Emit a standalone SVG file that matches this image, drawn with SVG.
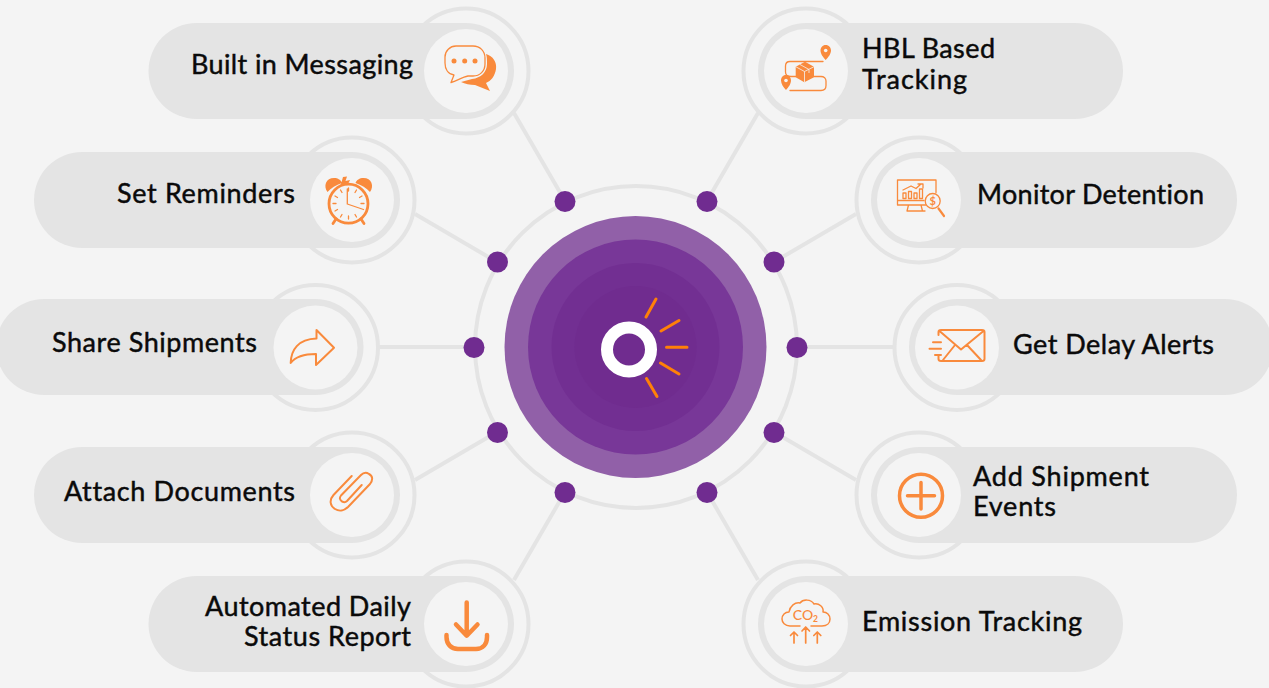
<svg xmlns="http://www.w3.org/2000/svg" width="1269" height="688" viewBox="0 0 1269 688">
<style>
.ring{fill:none;stroke:#e4e4e4;stroke-width:4}
.pill{fill:#e4e4e4}
.disc{fill:#f4f4f4}
.lbl{font-family:"Lato","Liberation Sans",sans-serif;font-size:27px;font-weight:400;fill:#0a0a0a;stroke:#0a0a0a;stroke-width:.45px;font-variant-ligatures:none}
.conn{stroke:#e4e4e4;stroke-width:4;fill:none}
.dot{fill:#702c90}
.o{fill:none;stroke:#f98a3c;stroke-width:2;stroke-linecap:round;stroke-linejoin:round}
.ot{fill:none;stroke:#f98a3c;stroke-width:1.3;stroke-linecap:round;stroke-linejoin:round}
.ok{fill:none;stroke:#f98a3c;stroke-width:4;stroke-linecap:round;stroke-linejoin:round}
.f{fill:#f98a3c}
.ray{stroke:#ff8008;stroke-width:3;stroke-linecap:round}
.it{font-family:"Lato","Liberation Sans",sans-serif;fill:#f98a3c}
</style>
<rect width="1269" height="688" fill="#f4f4f4"/>
<g id="connectors">
<circle class="conn" cx="636" cy="347" r="161"/>
<path class="conn" d="M565 201L514 113M497 262L415 214M474 347H378M497 432L415 480M565 492L514 580M707 201L758 113M774 262L856 214M797 347H893M774 432L856 480M707 492L758 580"/>
<g class="dot">
<circle cx="565" cy="201.500" r="10.500"/><circle cx="707" cy="201.500" r="10.500"/><circle cx="497.500" cy="262" r="10.500"/><circle cx="774" cy="262" r="10.500"/><circle cx="474" cy="347.500" r="10.500"/><circle cx="797" cy="347.500" r="10.500"/><circle cx="497.500" cy="432.500" r="10.500"/><circle cx="774" cy="432.500" r="10.500"/><circle cx="565" cy="492.500" r="10.500"/><circle cx="707" cy="492.500" r="10.500"/>
</g>
</g>
<g id="hub">
<circle cx="635.500" cy="347" r="131" fill="#9160a8"/>
<circle cx="635.500" cy="347" r="107.500" fill="#783798"/>
<circle cx="635.500" cy="347" r="84" fill="#722f92"/>
<circle cx="635.500" cy="347" r="61" fill="#702c8f"/>
<circle cx="629" cy="349.500" r="22" fill="none" stroke="#fff" stroke-width="12"/>
<path class="ray" d="M646 317L656 299M661 331L679 320.500M666.500 347.300H687M660.500 363L679 374M646.500 378.500L657 396.500"/>
</g>
<g id="node-messaging">
<circle class="ring" cx="466" cy="71" r="62.500"/>
<rect class="pill" x="148.500" y="23" width="365.500" height="96" rx="48"/>
<circle class="disc" cx="466" cy="71" r="42"/>
<text class="lbl" x="413" y="73.500" text-anchor="end" textLength="222">Built in Messaging</text>
<path class="f" d="M486 54C493 56 497 62 496 69C495 76 491 81 486 83L490 91L475 85C470 85 465 84 461 82L472 79C481 78 487 72 487 64C487 60 487 57 486 54Z"/>
<path class="o" style="stroke-width:1.300" d="M456 46H473C480 46 485 51 485 58V64C485 71 480 76 473 76H468C462 77 457 81 451 82.500L454 75C448 74 445 69 445 63V57C445 51 450 46 456 46Z"/>
<g class="f"><circle cx="454" cy="61" r="2.500"/><circle cx="464.700" cy="61" r="2.500"/><circle cx="475" cy="61" r="2.500"/></g>
</g>
<g id="node-reminders">
<circle class="ring" cx="352" cy="200" r="62.500"/>
<rect class="pill" x="34" y="152" width="366" height="96" rx="48"/>
<circle class="disc" cx="352" cy="200" r="42"/>
<text class="lbl" x="295" y="203" text-anchor="end" textLength="178">Set Reminders</text>
<circle cx="348.500" cy="203.700" r="19.500" fill="none" stroke="#f98a3c" stroke-width="2.800"/>
<path class="f" d="M327.500 192C323 186 326 178 334 178C338 178 341 180 342 183C336 185 331 188 327.500 192ZM370 192C374.500 186 371.500 178 363.500 178C359.500 178 356.500 180 355.500 183C361.500 185 366.500 188 370 192ZM343 177L347 176.500L345.500 181L350 180L348 184L341 184Z"/>
<path class="ok" style="stroke-width:2.800" d="M336 219L333 223.500M361 219L364 223.500"/>
<path class="ot" d="M347.300 189V204L363.500 209.500M348.500 188V191M348.500 216V219M333 203.500H336M361 203.500H364M340.500 190L342 192.500M356.500 190L355 192.500M335 196L337.500 197.500M362 196L359.500 197.500M335 211L337.500 209.500M340.500 217L342 214.500M356.500 217L355 214.500"/>
</g>
<g id="node-share">
<circle class="ring" cx="315.500" cy="347.500" r="62.500"/>
<rect class="pill" x="-4" y="299" width="367.500" height="96" rx="48"/>
<circle class="disc" cx="315.500" cy="347.500" r="42"/>
<text class="lbl" x="52" y="352" textLength="205">Share Shipments</text>
<path class="o" d="M316.500 330L334 347.700L316 365V354C305 354 296 356 290.700 363C291 350 298 339 316.500 338.500Z"/>
</g>
<g id="node-attach">
<circle class="ring" cx="352" cy="495" r="62.500"/>
<rect class="pill" x="34" y="447" width="366" height="96" rx="48"/>
<circle class="disc" cx="352" cy="495" r="42"/>
<text class="lbl" x="64" y="501" textLength="231">Attach Documents</text>
<path class="o" d="M351.700 476L333.500 495C329 500 330 506 335 509C340 512 345 510 348 507L370 484C373 480 373 476 369 474C366 472 363 473 361 475L341 495.500C339 498 340 500 342 501.500C344 502.500 346 502 347 501L361.700 485"/>
</g>
<g id="node-report">
<circle class="ring" cx="466" cy="624" r="62.500"/>
<rect class="pill" x="148.500" y="576" width="365.500" height="96" rx="48"/>
<circle class="disc" cx="466" cy="624" r="42"/>
<text class="lbl" x="411" y="615.500" text-anchor="end" textLength="206">Automated Daily</text>
<text class="lbl" x="411" y="645.500" text-anchor="end" textLength="167">Status Report</text>
<path class="ok" style="stroke-width:4.500" d="M466.700 602.500V635M456 624.500L466.700 635.700L477.500 624.500M446.500 635V637C446.500 644 451 649 458 649H476C483 649 487 644 487 637V635"/>
</g>
<g id="node-hbl">
<circle class="ring" cx="806" cy="71" r="62.500"/>
<rect class="pill" x="758" y="23" width="365" height="96" rx="48"/>
<circle class="disc" cx="806" cy="71" r="42"/>
<text class="lbl" x="862" y="58" textLength="133">HBL Based</text>
<text class="lbl" x="862" y="88.500" textLength="105">Tracking</text>
<path class="ot" d="M823 61.500H790C787 61.500 785.500 63.500 785.500 66V72C785.500 75 788 76.500 791 76.500H796M814 76.500H821C824 76.500 826 78.500 826 81V85.500C826 88.500 824 90.500 821 90.500H790"/>
<path class="f" d="M825.700 45C829 45 831 47.500 831 50.500C831 54 828 57.500 825.700 60C823.400 57.500 820.500 54 820.500 50.500C820.500 47.500 822.500 45 825.700 45ZM786 75C789.300 75 791 77.500 791 80.500C791 84 788.300 87.500 786 90C783.700 87.500 781 84 781 80.500C781 77.500 782.700 75 786 75ZM795.700 66.700L805 61.700L814 66.700V77.300L804.300 82.300L795.700 77.300Z"/>
<path d="M795.700 66.700L804.500 71.500L814 66.700M804.500 71.500V82M800 64.500L809 69.500V73" fill="none" stroke="#f4f4f4" stroke-width=".8"/>
<circle cx="825.700" cy="50.500" r="1.800" fill="#f4f4f4"/><circle cx="786" cy="80.500" r="1.800" fill="#f4f4f4"/>
</g>
<g id="node-monitor">
<circle class="ring" cx="919" cy="200" r="62.500"/>
<rect class="pill" x="871" y="152" width="366" height="96" rx="48"/>
<circle class="disc" cx="919" cy="200" r="42"/>
<text class="lbl" x="977" y="204" textLength="227">Monitor Detention</text>
<path class="ot" d="M926 205H897.500V180H936V192.500M897.500 200.500H924M908.500 205L907 211M921 205L922.500 211M908 211H925M903 190L911 186L916 188.500L921 184M918 184H923V188"/>
<path class="ot" d="M903 193H906V198.500H903ZM908.500 191.500H911.500V198.500H908.500ZM914 193H917V198.500H914ZM919.500 189H922.500V198.500H919.500Z"/>
<circle class="ot" cx="932.700" cy="201" r="7.500"/>
<text class="it" x="932.700" y="205" text-anchor="middle" font-size="11" font-weight="700">$</text>
<path class="ok" style="stroke-width:2.200" d="M938.500 208.500L944 216"/>
</g>
<g id="node-delay">
<circle class="ring" cx="957" cy="347.500" r="62.500"/>
<rect class="pill" x="909" y="299" width="364" height="96" rx="48"/>
<circle class="disc" cx="957" cy="347.500" r="42"/>
<text class="lbl" x="1013" y="353.500" textLength="201">Get Delay Alerts</text>
<path class="o" d="M938.500 335V332C938.500 330.500 939.500 330 941 330H982C983.500 330 984.500 330.500 984.500 332V359C984.500 360.500 983.500 361 982 361H941C939.500 361 938.500 360.500 938.500 359V356M939.500 331L961 349.500L983.500 331M943 360L955 345M981 360L967 345M933 342.300H941M929.500 348.700H941M935 355H941"/>
</g>
<g id="node-events">
<circle class="ring" cx="919" cy="495" r="62.500"/>
<rect class="pill" x="871" y="447" width="366" height="96" rx="48"/>
<circle class="disc" cx="919" cy="495" r="42"/>
<text class="lbl" x="973" y="486" textLength="176">Add Shipment</text>
<text class="lbl" x="973" y="516" textLength="83">Events</text>
<circle cx="921" cy="495.700" r="21.500" fill="none" stroke="#f98a3c" stroke-width="3.500"/>
<path class="ok" style="stroke-width:3.500" d="M907.500 495.700H934.500M921 482.500V509"/>
</g>
<g id="node-emission">
<circle class="ring" cx="806" cy="624" r="62.500"/>
<rect class="pill" x="758" y="576" width="365" height="96" rx="48"/>
<circle class="disc" cx="806" cy="624" r="42"/>
<text class="lbl" x="862" y="631" textLength="220">Emission Tracking</text>
<path class="o" style="stroke-width:1.500" d="M800 626H790C785 626 782 622.500 782 619C782 615 785 612 789 612C790 606 795 602 800 603C803 599 811 599 814 604C819 603 824 607 823 612C827 612 830 615 830 619C830 623 827 626 822 626H811"/>
<text class="it" x="803" y="620" text-anchor="middle" font-size="14" font-weight="500">CO</text>
<text class="it" x="815.500" y="622" text-anchor="middle" font-size="8.500" font-weight="700">2</text>
<path class="o" style="stroke-width:1.700" d="M794 643V632M790.500 635.500L794 632L797.500 635.500M805.700 643V627M802 631L805.700 627L809.500 631M817.300 643V632M813.800 635.500L817.300 632L820.800 635.500"/>
</g>
</svg>
